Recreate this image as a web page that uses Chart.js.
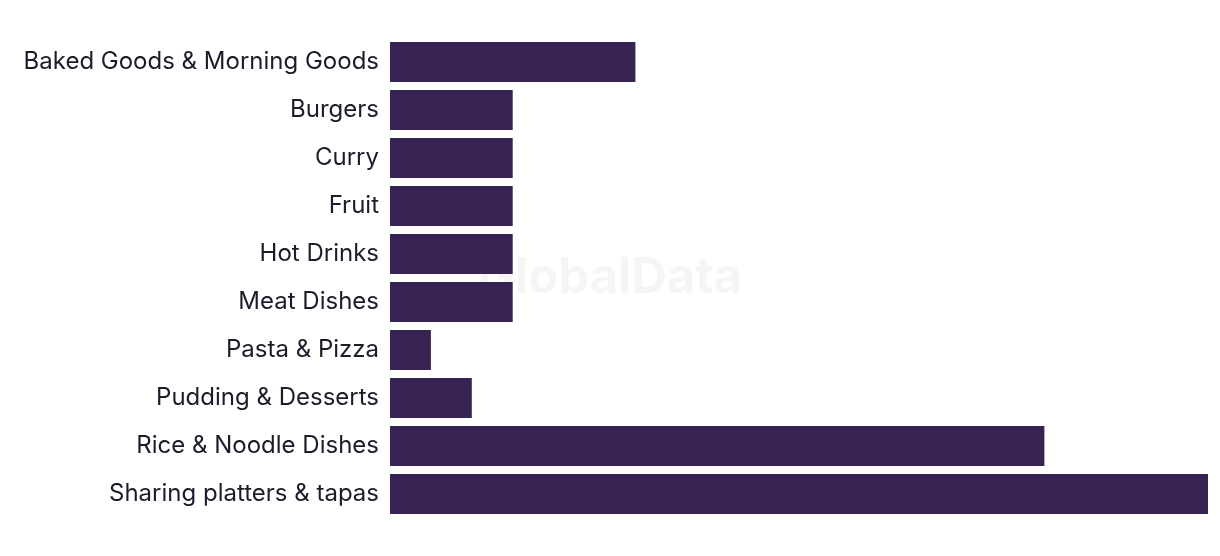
<!DOCTYPE html>
<html>
<head>
<meta charset="utf-8">
<script src="https://cdn.jsdelivr.net/npm/chart.js@4"></script>
<style>
  html, body { margin: 0; padding: 0; background: #fff; }
  #wrap { width: 1220px; height: 556px; position: relative; }
</style>
</head>
<body>
<div id="wrap"><canvas id="myChart"></canvas></div>
<script>
// categories and values
var categories = ['Baked Goods & Morning Goods', 'Burgers', 'Curry', 'Fruit', 'Hot Drinks',
  'Meat Dishes', 'Pasta & Pizza', 'Pudding & Desserts', 'Rice & Noodle Dishes', 'Sharing platters & tapas'];
var values = [6, 3, 3, 3, 3, 3, 1, 2, 16, 20];

// faint watermark behind the bars
var watermark = {
  id: 'watermark',
  beforeDatasetsDraw: function (chart) {
    var c = chart.ctx;
    c.save();
    c.font = 'bold 49px Inter, sans-serif';
    c.fillStyle = 'rgba(0,0,0,0.04)';
    c.textAlign = 'center';
    c.textBaseline = 'middle';
    c.fillText('GlobalData', 610, 278);
    c.restore();
  }
};

var data = {
  labels: categories,
  datasets: [{
    data: values,
    backgroundColor: '#372453',
    barPercentage: 1,
    categoryPercentage: 0.833
  }]
};

const config = {
  type: 'bar',
  data: data,
  options: {
    indexAxis: 'y',
    responsive: true,
    maintainAspectRatio: false,
    animation: false,
    layout: { padding: { top: 38, bottom: 38, right: 12, left: 0 } },
    plugins: {
      legend: { display: false },
      tooltip: { enabled: false }
    },
    scales: {
      x: { display: false, min: 0, max: 20 },
      y: {
        grid: { display: false, drawTicks: false },
        border: { display: false },
        ticks: {
          padding: 11,
          color: '#1c1c2b',
          font: { family: 'Inter, sans-serif', size: 24 }
        },
        afterFit: function (scale) { scale.width = 390; }
      }
    }
  },
  plugins: [watermark]
};

var myChart = new Chart(document.getElementById('myChart'), config);
</script>
</body>
</html>
